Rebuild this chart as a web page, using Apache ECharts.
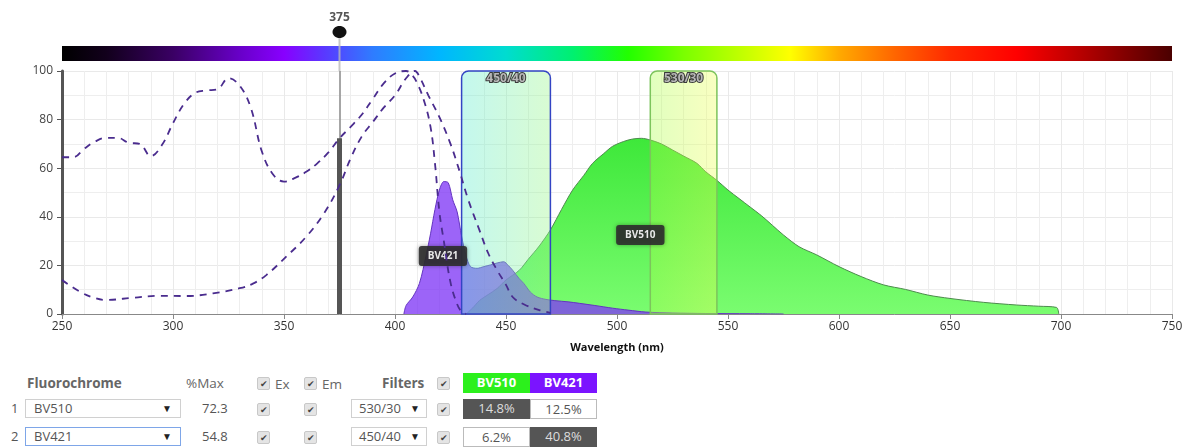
<!DOCTYPE html>
<html>
<head>
<meta charset="utf-8">
<script src="https://cdn.jsdelivr.net/npm/echarts@6/dist/echarts.min.js"></script>
<style>
  html, body { margin: 0; padding: 0; background: #fff; }
  body { width: 1196px; height: 448px; position: relative; overflow: hidden; font-family: "Open Sans", sans-serif; }
  #chart { position: absolute; left: 0; top: 0; width: 1196px; height: 355px; }
  .t { position: absolute; font-size: 13px; color: #555; white-space: nowrap; }
  .b { font-weight: bold; }
  .h { color: #666; font-size: 13.5px; }
  .cb { position: absolute; width: 11px; height: 11px; background: #e4e4e4; border: 1px solid #c8c8c8; border-radius: 2px;
        font-size: 9px; line-height: 11px; text-align: center; color: #444; }
  .sel { position: absolute; height: 19px; border: 1px solid #d0d0d0; background: #fff; box-sizing: border-box;
         font-size: 13px; line-height: 17px; color: #555; padding-left: 8px; }
  .sel .arr { position: absolute; right: 8px; top: 0; font-size: 10px; color: #222; }
  .cell { position: absolute; height: 20px; box-sizing: border-box; font-size: 13px; line-height: 19px; text-align: center; }
</style>
</head>
<body>
<div id="chart"></div>
<div id="table"></div>
<script>
// excitation spectra (dashed)
const bv510ExWl = [250, 255, 260, 265, 270, 275, 280, 285, 290, 295, 300, 305, 310, 315, 320, 325, 330, 335, 340, 345, 350, 355, 360, 365, 370, 375, 380, 385, 390, 395, 400, 405, 408, 410, 413, 416, 418, 420, 422, 425, 428, 430, 432];
const bv510ExVal = [64.5, 64.5, 68, 71, 72.5, 72.5, 70.5, 70, 65, 69.5, 78.5, 86.5, 91, 92, 92.5, 97, 94, 85, 67, 57.5, 54.5, 56, 58.5, 62, 66.5, 72.3, 77, 82, 88.5, 95, 99, 100, 98, 95, 88, 77, 62, 42, 30, 13, 4, 1, 0];
const bv421ExWl = [250, 258, 265, 270, 282, 294, 306, 318, 330, 336, 342, 351, 360, 368, 375, 380, 385, 390, 395, 400, 405, 409, 411, 415, 420, 425, 429, 433, 438, 442, 446, 450, 453, 458, 465, 470];
const bv421ExVal = [14, 9.2, 6.5, 5.8, 6.7, 7.5, 7.4, 8.5, 10.6, 12.5, 16, 23.6, 31.8, 41.4, 53, 64, 73, 79, 85, 90, 97, 100, 97.7, 90, 81, 70, 59, 47, 34.6, 25, 18, 12, 7, 4, 1.6, 0.5];

// emission spectra (filled)
const bv421EmWl = [404, 405, 408, 411, 414, 416, 418, 420, 422, 424, 426, 428, 430, 432, 434, 437, 440, 443, 446, 449, 451, 453, 456, 458, 461, 464, 468, 472, 478, 483, 490, 498, 505, 513, 525, 540, 560, 575];
const bv421EmVal = [0, 3.5, 7, 12.6, 24, 33, 43, 51, 54.5, 54, 47, 42, 32, 24, 19.5, 18.8, 19.5, 20.2, 21, 21.5, 20, 18, 14.5, 12.6, 9, 7, 6, 5.5, 5, 4.4, 3.5, 2.4, 1.6, 0.8, 0.4, 0.2, 0.1, 0];
const bv510EmWl = [432, 435, 438, 442, 446, 450, 456, 460, 465, 470, 475, 480, 485, 489, 494, 498, 503, 507, 511, 515, 520, 525, 530, 536, 540, 545, 550, 555, 560, 565, 570, 575, 582, 590, 600, 610, 620, 630, 640, 650, 665, 680, 690, 698, 699];
const bv510EmVal = [0, 2.5, 5.5, 8, 10.5, 14, 18, 22.5, 28, 34.6, 43, 51, 57, 62, 66, 69, 71, 72, 72.3, 71.6, 70, 67.5, 65, 62, 58.5, 55, 51, 47.5, 44, 40.5, 36.5, 32.5, 27.7, 24.3, 19.5, 15.4, 12, 10.1, 7.8, 6.4, 4.8, 3.7, 3.2, 2.7, 0];

// filters [name, low, high]
const filters = [['450/40', 430, 470], ['530/30', 515, 545]];
const laserLine = 375;
const laserMax = 72.3;

// spectrum bar stops [wavelength, colour]
const spectrumStops = [[250, '#000000'], [270, '#12001c'], [300, '#3a0064'], [330, '#6800c8'], [350, '#8800ff'], [368, '#5a38ff'], [390, '#2f7cff'], [420, '#00b6ff'], [450, '#00dcd0'], [480, '#00f070'], [505, '#22ff00'], [530, '#7aff00'], [560, '#ccff00'], [578, '#ffff00'], [600, '#ffaa00'], [625, '#ff6600'], [650, '#ff2a00'], [680, '#ff0000'], [710, '#b40000'], [750, '#4a0000']];

// table rows
const rowNames = ['BV510', 'BV421'];
const rowPctMax = ['72.3', '54.8'];
const rowFilters = ['530/30', '450/40'];
const spillover = [['14.8%', '12.5%'], ['6.2%', '40.8%']];

const zip = (xs, ys) => xs.map((x, i) => [x, ys[i]]);

const chart = echarts.init(document.getElementById('chart'));

const filterStyles = {
  '450/40': { border: '#3344c4', left: 'rgba(98,235,211,0.38)', right: 'rgba(155,247,137,0.38)' },
  '530/30': { border: '#7cc45c', left: 'rgba(169,255,75,0.36)', right: 'rgba(240,255,84,0.36)' },
};

const labelBox = {
  symbol: 'rect', symbolSize: 1, itemStyle: { color: 'rgba(0,0,0,0)' },
  label: {
    show: true, position: 'inside', color: '#e8e8e8', fontSize: 10, fontWeight: 'bold',
    fontFamily: 'Open Sans', backgroundColor: 'rgba(45,45,45,0.9)', borderRadius: 3, padding: [5, 9],
    shadowColor: 'rgba(0,0,0,0.4)', shadowBlur: 4,
  },
};

chart.setOption({
  animation: false,
  grid: { left: 62, right: 24, top: 71, bottom: 41, outerBoundsMode: 'none' },
  xAxis: {
    type: 'value', min: 250, max: 750, interval: 50,
    name: 'Wavelength (nm)', nameLocation: 'middle', nameGap: 28,
    nameTextStyle: { fontWeight: 'bold', fontSize: 11, color: '#111', fontFamily: 'Open Sans' },
    axisLine: { lineStyle: { color: '#888' } },
    axisTick: { length: 5, lineStyle: { color: '#888' } },
    axisLabel: { fontSize: 12, color: '#333', margin: 7, fontFamily: 'Open Sans' },
    splitLine: { lineStyle: { color: '#e9e9e9' } },
    minorTick: { show: false, splitNumber: 5 },
    minorSplitLine: { show: true, lineStyle: { color: '#eeeeee' } },
  },
  yAxis: {
    type: 'value', min: 0, max: 100, interval: 20,
    axisLine: { show: true, lineStyle: { color: '#555', width: 3 } },
    axisTick: { show: true, length: 5, lineStyle: { color: '#555', width: 1 } },
    axisLabel: { fontSize: 12, color: '#444', margin: 9, fontFamily: 'Open Sans' },
    splitLine: { lineStyle: { color: '#e9e9e9' } },
    minorTick: { show: false, splitNumber: 2 },
    minorSplitLine: { show: true, lineStyle: { color: '#eeeeee' } },
  },
  series: [
    {
      name: 'BV510 Em', type: 'line', z: 2, smooth: 0.3, showSymbol: false,
      data: zip(bv510EmWl, bv510EmVal),
      lineStyle: { color: '#4e8a4e', width: 1 },
      areaStyle: {
        opacity: 1,
        color: new echarts.graphic.LinearGradient(0, 0, 0, 1, [
          { offset: 0, color: '#3ee83a' },
          { offset: 1, color: '#7afc70' },
        ]),
      },
      markPoint: { ...labelBox, label: { ...labelBox.label, formatter: 'BV510' }, data: [{ coord: [510.5, 32.5] }] },
    },
    {
      name: 'BV421 Em', type: 'line', z: 3, smooth: 0.3, showSymbol: false,
      data: zip(bv421EmWl, bv421EmVal),
      lineStyle: { color: '#6434c0', width: 1 },
      areaStyle: { opacity: 1, color: 'rgba(128,56,246,0.78)' },
      markPoint: { ...labelBox, label: { ...labelBox.label, formatter: 'BV421' }, data: [{ coord: [421.6, 23.9] }] },
    },
    {
      name: 'Filters', type: 'custom', z: 4, silent: true,
      data: filters.map(([, lo, hi]) => [lo, hi]),
      encode: { x: [0, 1] },
      renderItem: (params, api) => {
        const name = filters[params.dataIndex][0];
        const st = filterStyles[name];
        const p0 = api.coord([api.value(0), 100]);
        const p1 = api.coord([api.value(1), 0]);
        return {
          type: 'group',
          children: [
            {
              type: 'rect',
              shape: { x: p0[0], y: p0[1], width: p1[0] - p0[0], height: p1[1] - p0[1], r: [7, 7, 0, 0] },
              style: {
                fill: new echarts.graphic.LinearGradient(0, 0, 1, 0, [
                  { offset: 0, color: st.left }, { offset: 1, color: st.right },
                ]),
                stroke: st.border, lineWidth: 1.5,
              },
            },
            {
              type: 'text', x: (p0[0] + p1[0]) / 2, y: p0[1] + 2,
              style: {
                text: name, align: 'center', verticalAlign: 'top', fill: '#b8b8b8',
                font: 'bold 12px "Open Sans"', stroke: '#3a3a3a', lineWidth: 2,
              },
            },
          ],
        };
      },
    },
    {
      name: 'BV510 Ex', type: 'line', z: 5, smooth: 0.4, showSymbol: false,
      data: zip(bv510ExWl, bv510ExVal),
      lineStyle: { color: '#4a2c8e', width: 1.8, type: [7, 6] },
    },
    {
      name: 'BV421 Ex', type: 'line', z: 5, smooth: 0.4, showSymbol: false,
      data: zip(bv421ExWl, bv421ExVal),
      lineStyle: { color: '#4a2c8e', width: 1.8, type: [7, 6] },
    },
    {
      name: 'Laser', type: 'line', z: 6, data: [], silent: true,
      markLine: {
        silent: true, symbol: 'none', label: { show: false },
        data: [
          [{ coord: [laserLine, 0] }, { coord: [laserLine, 100] }],
          [{ coord: [laserLine, 0], lineStyle: { color: '#555', width: 5, type: 'solid' } },
           { coord: [laserLine, laserMax] }],
        ],
        lineStyle: { color: 'rgba(150,150,150,0.85)', width: 2, type: 'solid' },
      },
    },
  ],
});

// spectrum bar and laser marker above the plot
const [x0, yTop] = chart.convertToPixel('grid', [250, 100]);
const [x1] = chart.convertToPixel('grid', [750, 100]);
const [xl] = chart.convertToPixel('grid', [laserLine, 100]);
const barTop = yTop - 25;
chart.setOption({
  graphic: [
    {
      type: 'rect', z: 10,
      shape: { x: x0, y: barTop, width: x1 - x0, height: 15 },
      style: {
        fill: new echarts.graphic.LinearGradient(0, 0, 1, 0,
          spectrumStops.map(([wl, c]) => ({ offset: (wl - 250) / 500, color: c }))),
      },
    },
    {
      type: 'line', z: 11,
      shape: { x1: xl, y1: barTop - 14, x2: xl, y2: yTop },
      style: { stroke: 'rgba(185,185,185,0.8)', lineWidth: 2 },
    },
    {
      type: 'ellipse', z: 12,
      shape: { cx: xl, cy: barTop - 14, rx: 7, ry: 6 },
      style: { fill: '#111' },
    },
    {
      type: 'text', z: 12,
      x: xl, y: barTop - 28,
      style: { text: String(laserLine), fill: '#555', font: 'bold 12px "Open Sans"', align: 'center', verticalAlign: 'middle' },
    },
  ],
});

// table below the chart
const cb = (x, y) => `<div class="cb" style="left:${x}px;top:${y}px">&#10004;</div>`;
let html = '';
html += `<div class="t b h" style="left:27px;top:374px">Fluorochrome</div>`;
html += `<div class="t h" style="left:186px;top:374px">%Max</div>`;
html += cb(257, 377) + `<div class="t h" style="left:275px;top:375px">Ex</div>`;
html += cb(304, 377) + `<div class="t h" style="left:322px;top:375px">Em</div>`;
html += `<div class="t b h" style="left:382px;top:374px">Filters</div>`;
html += cb(437, 377);
html += `<div class="cell b" style="left:463px;top:373px;width:67px;background:#2cf01c;color:#fff">BV510</div>`;
html += `<div class="cell b" style="left:530px;top:373px;width:67px;background:#7b14ff;color:#fff">BV421</div>`;
const rowTops = [399, 427];
rowNames.forEach((name, i) => {
  const y = rowTops[i];
  const focus = i === 1 ? 'border-color:#7ea6e8;' : '';
  html += `<div class="t" style="left:11px;top:${y}px">${i + 1}</div>`;
  html += `<div class="sel" style="left:25px;top:${y}px;width:156px;${focus}">${name}<span class="arr">&#9660;</span></div>`;
  html += `<div class="t" style="left:202px;top:${y}px">${rowPctMax[i]}</div>`;
  html += cb(257, y + 4) + cb(304, y + 4);
  html += `<div class="sel" style="left:351px;top:${y}px;width:76px;padding-left:7px">${rowFilters[i]}<span class="arr" style="right:6px">&#9660;</span></div>`;
  html += cb(437, y + 4);
  spillover[i].forEach((v, j) => {
    const dark = i === j;
    const st = dark ? 'background:#555;color:#ddd;' : 'background:#fff;color:#555;border:1px solid #bbb;';
    html += `<div class="cell" style="left:${463 + j * 67}px;top:${y}px;width:67px;${st}">${v}</div>`;
  });
});
document.getElementById('table').innerHTML = html;
</script>
</body>
</html>
